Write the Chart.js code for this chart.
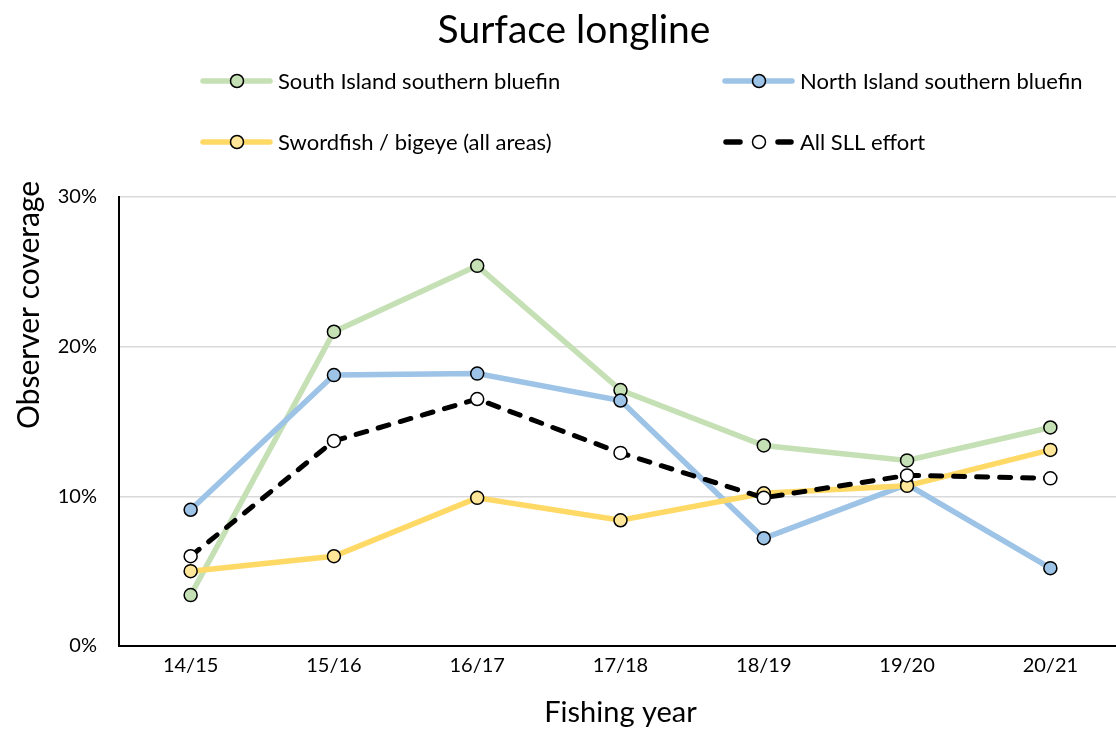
<!DOCTYPE html>
<html>
<head>
<meta charset="utf-8">
<script src="https://cdn.jsdelivr.net/npm/chart.js@4.4.0/dist/chart.umd.min.js"></script>
<style>
  html, body { margin: 0; padding: 0; background: #fff; overflow: hidden; }
  canvas { display: block; }
</style>
</head>
<body>
<canvas id="chart" width="1130" height="729"></canvas>
<script>
// Fishing years on the x axis
const years = ['14/15', '15/16', '16/17', '17/18', '18/19', '19/20', '20/21'];

// Observer coverage (%)
const southIsland = [3.4, 21.0, 25.4, 17.1, 13.4, 12.4, 14.6];
const northIsland = [9.1, 18.1, 18.2, 16.4, 7.2, 10.8, 5.2];
const swordfish = [5.0, 6.0, 9.9, 8.4, 10.2, 10.7, 13.1];
const allEffort = [6.0, 13.7, 16.5, 12.9, 9.9, 11.4, 11.2];

// Y axis ticks
const yTicks = [0, 10, 20, 30];

const FONT = 'Lato, "Noto Sans", sans-serif';

// Series styling
const seriesStyle = [
  { label: 'South Island southern bluefin', data: southIsland, line: '#c5e0b4', fill: '#c5e0b4', dash: [] },
  { label: 'North Island southern bluefin', data: northIsland, line: '#9dc3e6', fill: '#9dc3e6', dash: [] },
  { label: 'Swordfish / bigeye (all areas)', data: swordfish, line: '#ffd966', fill: '#ffe699', dash: [] },
  { label: 'All SLL effort', data: allEffort, line: '#000000', fill: '#ffffff', dash: [11, 12] }
];

// Draws the title, both axis titles and the two-column legend
const headerPlugin = {
  id: 'header',
  afterDraw(chart) {
    const ctx = chart.ctx;
    const area = chart.chartArea;
    ctx.save();
    ctx.fillStyle = '#000';
    ctx.font = '39px ' + FONT;
    ctx.textAlign = 'center';
    ctx.textBaseline = 'middle';
    ctx.fillText('Surface longline', 574, 30);

    // x axis title
    ctx.font = '29px ' + FONT;
    ctx.fillText('Fishing year', (area.left + area.right) / 2, 713);

    // y axis title sits a little above the middle, like the original
    ctx.save();
    ctx.translate(29, 305);
    ctx.rotate(-Math.PI / 2);
    ctx.font = '30px ' + FONT;
    ctx.fillText('Observer coverage', 0, 0);
    ctx.restore();

    const spots = [
      { x: 200, y: 81 }, { x: 722, y: 81 },
      { x: 200, y: 142 }, { x: 722, y: 142 }
    ];
    // legend order: South, North, Swordfish, All
    seriesStyle.forEach((s, i) => {
      const p = spots[i];
      ctx.strokeStyle = s.line;
      ctx.lineWidth = 5.5;
      ctx.lineCap = 'round';
      ctx.beginPath();
      if (s.dash.length) {
        // two short dashes either side of the marker
        ctx.moveTo(p.x + 4, p.y);
        ctx.lineTo(p.x + 18, p.y);
        ctx.moveTo(p.x + 56, p.y);
        ctx.lineTo(p.x + 69, p.y);
      } else {
        ctx.moveTo(p.x + 3, p.y);
        ctx.lineTo(p.x + 70, p.y);
      }
      ctx.stroke();
      ctx.beginPath();
      ctx.arc(p.x + 37, p.y, 6.5, 0, Math.PI * 2);
      ctx.fillStyle = s.fill;
      ctx.fill();
      ctx.lineWidth = 1.5;
      ctx.strokeStyle = '#000';
      ctx.stroke();
      ctx.fillStyle = '#000';
      ctx.font = '22px ' + FONT;
      ctx.textAlign = 'left';
      ctx.fillText(s.label, p.x + 78, p.y + 1);
    });
    ctx.restore();
  }
};

const datasets = seriesStyle.map((s, i) => ({
  label: s.label,
  data: s.data,
  borderColor: s.line,
  borderWidth: i === 3 ? 5 : 5.5,
  borderDash: s.dash,
  borderCapStyle: 'round',
  pointRadius: 6.5,
  pointBackgroundColor: s.fill,
  pointBorderColor: '#000',
  pointBorderWidth: 1.5,
  tension: 0,
  order: 4 - i
}));

new Chart(document.getElementById('chart'), {
  type: 'line',
  data: { labels: years, datasets: datasets },
  plugins: [headerPlugin],
  options: {
    responsive: false,
    animation: false,
    layout: { padding: { top: 197, right: 5, left: 0, bottom: 0 } },
    plugins: {
      legend: { display: false },
      title: { display: false },
      tooltip: { enabled: false }
    },
    scales: {
      x: {
        offset: true,
        grid: { display: false, drawTicks: false },
        border: { color: '#000', width: 2 },
        ticks: { color: '#000', font: { family: FONT, size: 20 }, padding: 8 },
        afterFit(scale) { scale.height = 83; }
      },
      y: {
        min: 0,
        max: 30,
        afterBuildTicks(scale) { scale.ticks = yTicks.map(v => ({ value: v })); },
        grid: { color: '#d9d9d9', lineWidth: 1.5, drawTicks: false },
        border: { color: '#000', width: 2 },
        ticks: { color: '#000', font: { family: FONT, size: 20 }, padding: 22, callback: v => v + '%' },
        afterFit(scale) { scale.width = 119; }
      }
    }
  }
});
</script>
</body>
</html>
